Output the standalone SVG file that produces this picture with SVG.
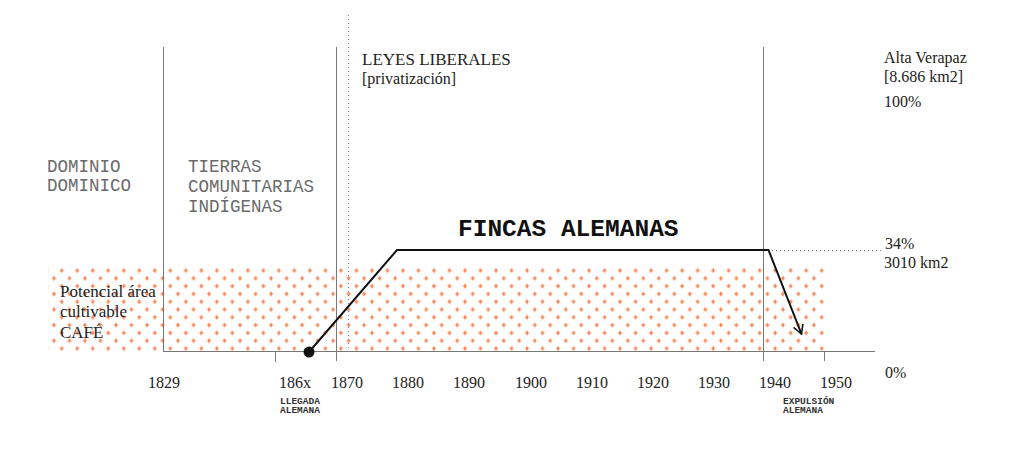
<svg xmlns="http://www.w3.org/2000/svg" width="1024" height="466" viewBox="0 0 1024 466">
  <style>
    .mono { font-family: "Liberation Mono", "Courier New", monospace; fill: #6a6a6a; font-size: 17.5px; }
    .serif { font-family: "Liberation Serif", "Times New Roman", serif; fill: #222; font-size: 16px; }
    .big { font-size: 17px; }
    .year { font-family: "Liberation Serif", "Times New Roman", serif; fill: #222; font-size: 16px; }
    .tiny { font-family: "Liberation Mono", "Courier New", monospace; font-weight: bold; fill: #333; font-size: 9.5px; }
    .title { font-family: "Liberation Mono", "Courier New", monospace; font-weight: bold; fill: #111; font-size: 24.5px; }
    .grid { stroke: #777; stroke-width: 1; fill: none; }
    .dot { stroke: #888; stroke-width: 1; stroke-dasharray: 1 3; fill: none; }
  </style>
  <defs>
    <pattern id="plus" patternUnits="userSpaceOnUse" x="57.825" y="266.6" width="15.51" height="15.6">
      <path d="M1.8,3.9 h4.2 M3.9,1.8 v4.2 M9.53,11.7 h4.2 M11.63,9.6 v4.2" stroke="#f66a30" stroke-width="1.2" fill="none"/>
    </pattern>
    <marker id="arrow" viewBox="0 0 12 12" refX="10" refY="6" markerWidth="12" markerHeight="12" markerUnits="userSpaceOnUse" orient="auto">
      <path d="M1,1 L10,6 L1,11" fill="none" stroke="#111" stroke-width="1.6"/>
    </marker>
  </defs>
  <rect width="1024" height="466" fill="#fff"/>

  <g id="area-cultivable">
    <rect x="48" y="265" width="778" height="87" fill="url(#plus)"/>
  </g>

  <g id="grid">
    <line class="grid" x1="163.5" y1="47" x2="163.5" y2="352"/>
    <line class="grid" x1="336.5" y1="47" x2="336.5" y2="361"/>
    <line class="grid" x1="763.5" y1="47" x2="763.5" y2="361"/>
    <line class="grid" x1="163" y1="351.5" x2="875" y2="351.5"/>
    <line class="grid" x1="275.5" y1="352" x2="275.5" y2="362"/>
    <line class="grid" x1="824.5" y1="352" x2="824.5" y2="361"/>
    <line class="dot" x1="348.5" y1="15" x2="348.5" y2="352"/>
    <line class="dot" x1="772" y1="250.5" x2="882" y2="250.5"/>
  </g>

  <g id="connectors">
    <path d="M309,352 L397,250 L768.5,250 L801.5,334" fill="none" stroke="#111" stroke-width="2" marker-end="url(#arrow)"/>
    <circle cx="309" cy="352" r="5.5" fill="#111"/>
  </g>

  <g id="dominio">
    <text class="mono" x="47" y="172">DOMINIO</text>
    <text class="mono" x="47" y="191">DOMINICO</text>
  </g>
  <g id="tierras">
    <text class="mono" x="188" y="172">TIERRAS</text>
    <text class="mono" x="188" y="192">COMUNITARIAS</text>
    <text class="mono" x="188" y="212">INDÍGENAS</text>
  </g>
  <g id="leyes">
    <text class="serif big" x="362" y="65">LEYES LIBERALES</text>
    <text class="serif" x="362" y="84">[privatización]</text>
  </g>
  <g id="fincas">
    <text class="title" x="458" y="236">FINCAS ALEMANAS</text>
  </g>
  <g id="potencial">
    <text class="serif big" x="60" y="297">Potencial área</text>
    <text class="serif big" x="60" y="317">cultivable</text>
    <text class="serif big" x="60" y="338">CAFÉ</text>
  </g>
  <g id="alta-verapaz">
    <text class="serif" x="884" y="63">Alta Verapaz</text>
    <text class="serif" x="884" y="82">[8.686 km2]</text>
    <text class="serif" x="884" y="107">100%</text>
  </g>
  <g id="porcentaje">
    <text class="serif" x="885" y="249">34%</text>
    <text class="serif" x="884" y="268">3010 km2</text>
    <text class="serif" x="885" y="378">0%</text>
  </g>
  <g id="years">
    <text class="year" x="148" y="388">1829</text>
    <text class="year" x="279" y="388">186x</text>
    <text class="year" x="331" y="388">1870</text>
    <text class="year" x="392" y="388">1880</text>
    <text class="year" x="453" y="388">1890</text>
    <text class="year" x="515" y="388">1900</text>
    <text class="year" x="576" y="388">1910</text>
    <text class="year" x="637" y="388">1920</text>
    <text class="year" x="698" y="388">1930</text>
    <text class="year" x="759" y="388">1940</text>
    <text class="year" x="820" y="388">1950</text>
  </g>
  <g id="llegada">
    <text class="tiny" x="280" y="404">LLEGADA</text>
    <text class="tiny" x="280" y="413">ALEMANA</text>
  </g>
  <g id="expulsion">
    <text class="tiny" x="783" y="404">EXPULSIÓN</text>
    <text class="tiny" x="783" y="413">ALEMANA</text>
  </g>
</svg>
